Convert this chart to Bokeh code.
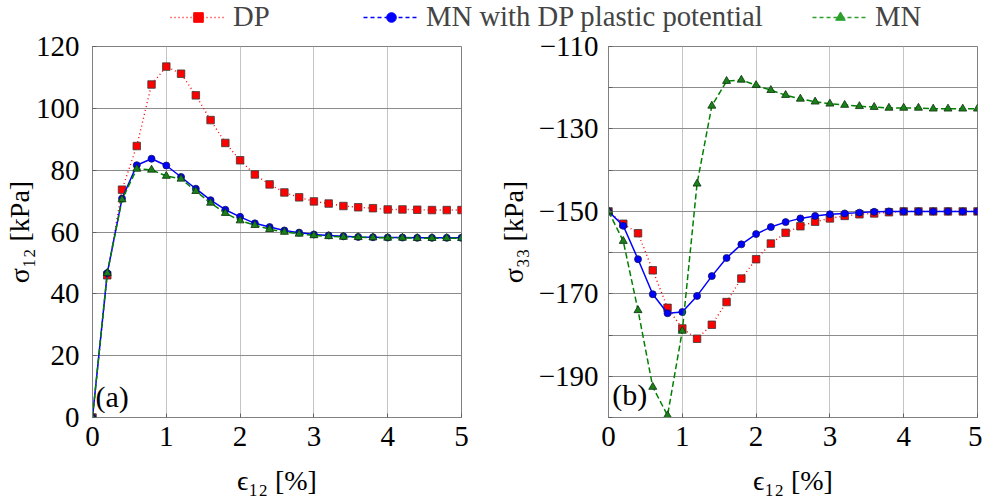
from bokeh.plotting import figure
from bokeh.models import FixedTicker, Legend, LegendItem, Label, Range1d
from bokeh.layouts import column, row
from bokeh.embed import file_html
from bokeh.resources import INLINE

FONT = "'Liberation Serif', 'DejaVu Serif', serif"

# ---------------- data ----------------
strain = [0.0, 0.2, 0.4, 0.6, 0.8, 1.0, 1.2, 1.4, 1.6, 1.8, 2.0, 2.2, 2.4,
          2.6, 2.8, 3.0, 3.2, 3.4, 3.6, 3.8, 4.0, 4.2, 4.4, 4.6, 4.8, 5.0]

# (a) sigma_12 [kPa]
s12_DP = [0.0, 46.0, 73.7, 87.8, 107.7, 113.5, 111.2, 104.2, 96.2, 88.8, 83.2,
          78.6, 75.4, 72.8, 71.2, 69.9, 69.2, 68.4, 68.0, 67.7, 67.3, 67.3,
          67.2, 67.1, 67.1, 67.1]
s12_MNDP = [0.0, 46.7, 70.8, 81.6, 83.7, 81.5, 77.8, 74.0, 70.3, 67.2, 64.9,
            62.8, 61.6, 60.5, 59.8, 59.2, 58.9, 58.6, 58.4, 58.3, 58.2, 58.2,
            58.1, 58.1, 58.1, 58.1]
s12_MN = [0.0, 46.7, 70.5, 80.4, 80.1, 78.1, 77.2, 73.2, 69.4, 66.1, 63.7,
          62.2, 60.9, 60.0, 59.4, 58.9, 58.6, 58.4, 58.3, 58.2, 58.1, 58.1,
          58.0, 58.0, 58.0, 58.0]

# (b) sigma_33 [kPa]
s33_DP = [-150.0, -153.0, -155.3, -164.3, -173.4, -178.4, -180.9, -177.5,
          -172.0, -166.3, -161.6, -157.8, -155.2, -153.6, -152.5, -151.7,
          -151.1, -150.7, -150.5, -150.2, -150.0, -150.0, -150.0, -150.0,
          -150.0, -150.0]
s33_MNDP = [-150.0, -153.5, -161.6, -170.1, -174.7, -174.4, -170.5, -165.7,
            -161.3, -158.0, -155.5, -153.8, -152.6, -151.7, -151.1, -150.7,
            -150.5, -150.3, -150.1, -150.0, -150.0, -150.0, -150.0, -150.0,
            -150.0, -150.0]
s33_MN = [-150.0, -157.2, -174.0, -192.6, -199.5, -179.0, -143.3, -124.4,
          -118.4, -118.1, -119.4, -120.6, -121.8, -122.7, -123.4, -123.9,
          -124.2, -124.5, -124.7, -124.9, -124.9, -124.9, -125.1, -125.1,
          -125.1, -125.1]

x_ticks = [0, 1, 2, 3, 4, 5]
a_ticks = [0, 20, 40, 60, 80, 100, 120]
b_ticks = [-190, -170, -150, -130, -110]
b_minor = [-200, -180, -160, -140, -120]
b_grid = [-200, -190, -180, -170, -160, -150, -140, -130, -120, -110]
b_tick_labels = {-190: "\u2212190", -170: "\u2212170", -150: "\u2212150",
                 -130: "\u2212130", -110: "\u2212110"}

series_names = ["DP", "MN with DP plastic potential", "MN"]

RED, BLUE, GREEN = "#ff0000", "#0000ff", "#008000"
TICK_FS = "29px"


def style(p, ylabel, y_ticks, overrides=None, minor=None, ygrid_ticks=None,
          ystand=12, ytitle_stand=0):
    p.outline_line_color = "#808080"
    p.border_fill_alpha = 0
    p.xgrid.grid_line_color = "#c4c4c4"
    p.ygrid.grid_line_color = "#8c8c8c"
    p.xaxis.ticker = FixedTicker(ticks=x_ticks)
    if minor:
        p.yaxis.ticker = FixedTicker(ticks=y_ticks, minor_ticks=minor)
    else:
        p.yaxis.ticker = FixedTicker(ticks=y_ticks)
    if ygrid_ticks:
        p.ygrid.ticker = FixedTicker(ticks=ygrid_ticks)
    if overrides:
        p.yaxis.major_label_overrides = overrides
    for ax in (p.xaxis[0], p.yaxis[0]):
        ax.axis_line_color = "#808080"
        ax.major_tick_line_color = "#606060"
        ax.major_tick_in = 4
        ax.major_tick_out = 0
        ax.minor_tick_in = 4 if (ax is p.yaxis[0] and minor) else 0
        ax.minor_tick_out = 0
        ax.minor_tick_line_color = "#606060"
        ax.major_label_text_font = FONT
        ax.major_label_text_font_size = TICK_FS
        ax.major_label_text_color = "black"
        ax.axis_label_text_font = FONT
        ax.axis_label_text_font_size = "28px"
        ax.axis_label_text_font_style = "normal"
        ax.axis_label_text_color = "black"
    p.xaxis.major_label_standoff = 9
    p.xaxis.axis_label = "\u03f5\u2081\u2082 [%]"
    p.xaxis.axis_label_standoff = 16
    p.yaxis.major_label_standoff = ystand
    p.yaxis.axis_label = ylabel
    p.yaxis.axis_label_standoff = ytitle_stand


def draw(p, ys_dp, ys_mndp, ys_mn):
    p.line(strain, ys_dp, line_color=RED, line_dash="1 3", line_width=1.4)
    p.scatter(strain, ys_dp, marker="square", size=7.5, fill_color=RED,
              line_color="#3a3a3a", line_width=0.8)
    p.line(strain, ys_mndp, line_color=BLUE, line_width=1.5)
    p.scatter(strain, ys_mndp, marker="circle", size=7, fill_color=BLUE,
              line_color="#101060", line_width=0.8)
    p.line(strain, ys_mn, line_color=GREEN, line_dash="6 3", line_width=1.5)
    p.scatter(strain, ys_mn, marker="triangle", size=8, fill_color="#1a801a",
              line_color="#0a300a", line_width=0.8)


OVERLAP = 12
B_TOP, FRAME_H, B_BOT = 12 + OVERLAP, 371, 84
PLOT_H = B_TOP + FRAME_H + B_BOT

p1 = figure(width=478, height=PLOT_H, x_range=Range1d(0, 5),
            y_range=Range1d(0, 120), output_backend="svg",
            toolbar_location=None, min_border_left=91, min_border_right=17,
            min_border_top=B_TOP, min_border_bottom=B_BOT)
style(p1, "\u03c3\u2081\u2082 [kPa]", a_ticks, ystand=13, ytitle_stand=-2)
draw(p1, s12_DP, s12_MNDP, s12_MN)
p1.add_layout(Label(x=0.04, y=1.5, text="(a)", text_font=FONT,
                    text_font_size="30px", text_baseline="bottom",
                    text_color="black"))

p2 = figure(width=504, height=PLOT_H, x_range=Range1d(0, 5),
            y_range=Range1d(-200, -110), output_backend="svg",
            toolbar_location=None, min_border_left=130, min_border_right=5,
            min_border_top=B_TOP, min_border_bottom=B_BOT)
style(p2, "\u03c3\u2083\u2083 [kPa]", b_ticks, overrides=b_tick_labels,
      minor=b_minor, ygrid_ticks=b_grid, ystand=10, ytitle_stand=7)
draw(p2, s33_DP, s33_MNDP, s33_MN)
p2.add_layout(Label(x=0.05, y=-198.5, text="(b)", text_font=FONT,
                    text_font_size="30px", text_baseline="bottom",
                    text_color="black"))

# ---------------- legend strip (proxies drawn out of view) ----------------
lf = figure(width=982, height=34, x_range=Range1d(0, 1),
            y_range=Range1d(1000, 1001), output_backend="svg",
            toolbar_location=None, min_border=0)
lf.axis.visible = False
lf.grid.visible = False
lf.outline_line_color = None

l_dp = lf.line(strain, s12_DP, line_color=RED, line_dash="1 3", line_width=1.4)
m_dp = lf.scatter(strain, s12_DP, marker="square", size=11, fill_color=RED,
                  line_color=RED)
l_mndp = lf.line(strain, s12_MNDP, line_color=BLUE, line_dash="4 3",
                 line_width=1.4)
m_mndp = lf.scatter(strain, s12_MNDP, marker="circle", size=10,
                    fill_color=BLUE, line_color=BLUE)
l_mn = lf.line(strain, s12_MN, line_color="#2ca02c", line_dash="4 3",
               line_width=1.4)
m_mn = lf.scatter(strain, s12_MN, marker="triangle", size=13,
                  fill_color="#2ca02c", line_color="#2ca02c")

leg_x = [170, 363, 812]
for name, rs, lx in zip(series_names,
                        [[l_dp, m_dp], [l_mndp, m_mndp], [l_mn, m_mn]], leg_x):
    leg = Legend(items=[LegendItem(label=name, renderers=rs)],
                 location=(lx, 1), orientation="horizontal", glyph_width=56,
                 glyph_height=24, label_standoff=7, padding=0, margin=0,
                 border_line_color=None, background_fill_alpha=0,
                 label_text_font=FONT, label_text_font_size="28.7px",
                 label_height=28)
    lf.add_layout(leg)

plots = row(p1, p2, margin=(-OVERLAP, 0, 0, 0))
layout = column(lf, plots)

open("out.html", "w").write(file_html(layout, INLINE))
